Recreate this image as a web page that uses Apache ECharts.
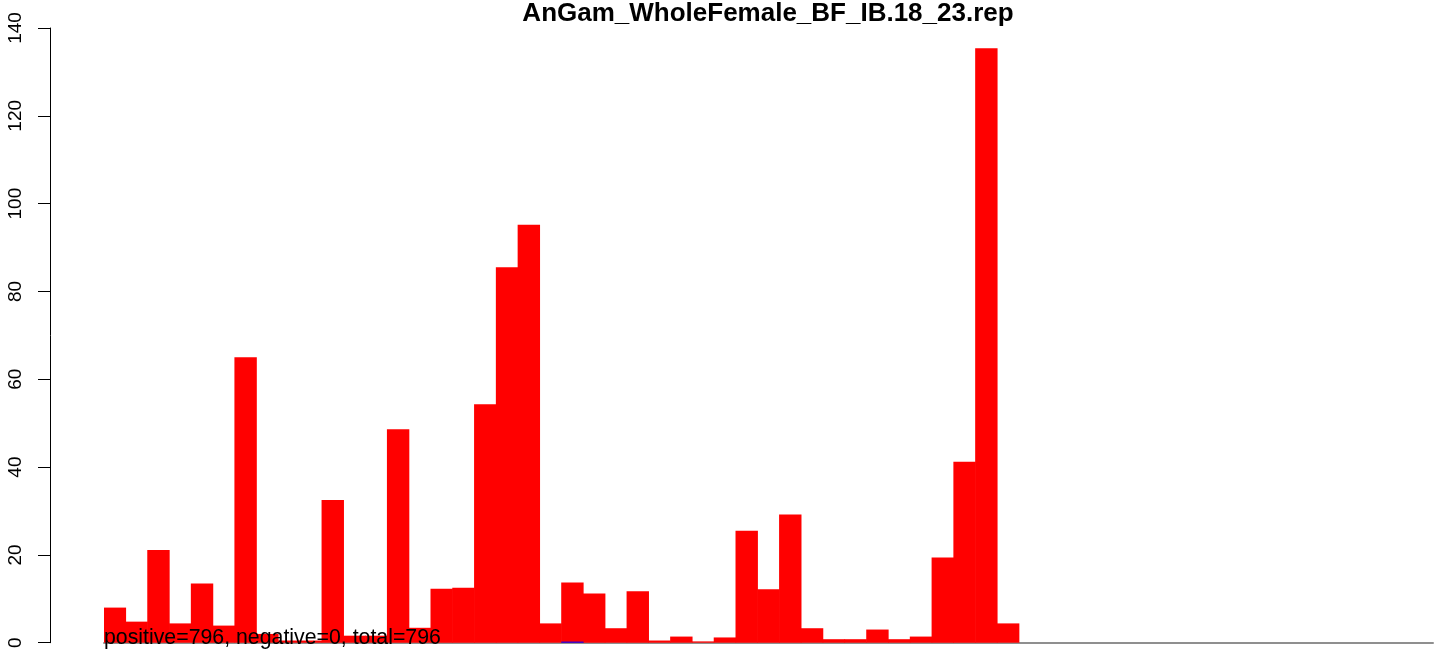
<!DOCTYPE html>
<html>
<head>
<meta charset="utf-8">
<script src="https://cdn.jsdelivr.net/npm/echarts@6/dist/echarts.min.js"></script>
<style>
html,body{margin:0;padding:0;background:#fff;}
#chart{width:1444px;height:651px;}
</style>
</head>
<body>
<div id="chart"></div>
<script>
const chartTitle = 'AnGam_WholeFemale_BF_IB.18_23.rep';
const noteText = 'positive=796, negative=0, total=796';
const slotCount = 61;
const categories = Array.from({length: slotCount}, (_, i) => String(i + 1));
const positiveValues = [
  8.0, 4.8, 21.1, 4.4, 13.5, 3.9, 65.0, 2.0, 0.5, 0.5,
  32.5, 1.6, 1.6, 48.6, 3.4, 12.3, 12.5, 54.3, 85.5, 95.2,
  4.4, 13.7, 11.2, 3.3, 11.7, 0.5, 1.4, 0.3, 1.2, 25.5,
  12.2, 29.2, 3.3, 0.8, 0.8, 3.0, 0.8, 1.4, 19.4, 41.2,
  135.4, 4.4
];
const negativeIndex = [21];
const negativeValues = [0.25];
const yTicks = [0, 20, 40, 60, 80, 100, 120, 140];

const posData = categories.map((c, i) => i < positiveValues.length ? positiveValues[i] : '-');
const negData = categories.map((c, i) => {
  const k = negativeIndex.indexOf(i);
  return k >= 0 ? negativeValues[k] : '-';
});

const chart = echarts.init(document.getElementById('chart'), null, {renderer: 'canvas'});
chart.setOption({
  animation: false,
  backgroundColor: '#ffffff',
  textStyle: {fontFamily: 'Liberation Sans, Arial, sans-serif'},
  title: [
    {
      text: chartTitle,
      left: 768,
      top: 1,
      textAlign: 'center',
      padding: 0,
      textStyle: {fontSize: 26, fontWeight: 'bold', color: '#000', fontFamily: 'Liberation Sans, Arial, sans-serif'}
    },
    {
      text: noteText,
      left: 104,
      top: 628,
      padding: 0,
      textStyle: {fontSize: 21.3, fontWeight: 'normal', color: '#000', fontFamily: 'Liberation Sans, Arial, sans-serif'},
      z: 10
    }
  ],
  grid: {left: 104, right: 11, top: 28, bottom: 7, containLabel: false},
  xAxis: {
    type: 'category',
    data: categories,
    axisLine: {show: true, lineStyle: {color: '#8f8f8f', width: 2}},
    axisTick: {show: false},
    axisLabel: {show: false},
    splitLine: {show: false}
  },
  yAxis: {
    type: 'value',
    min: yTicks[0],
    max: yTicks[yTicks.length - 1],
    interval: 20,
    offset: 54,
    axisLine: {show: true, lineStyle: {color: '#000', width: 1}},
    axisTick: {show: true, length: 12, lineStyle: {color: '#000', width: 1}},
    axisLabel: {
      show: true,
      rotate: 90,
      margin: 25,
      fontSize: 19,
      color: '#000',
      fontFamily: 'Liberation Sans, Arial, sans-serif'
    },
    splitLine: {show: false}
  },
  series: [
    {
      type: 'bar',
      data: posData,
      barWidth: 22.4,
      barGap: '-100%',
      itemStyle: {color: '#ff0000'},
      z: 2
    },
    {
      type: 'bar',
      data: negData,
      barWidth: 22.4,
      barGap: '-100%',
      itemStyle: {color: '#0000ff'},
      z: 3
    }
  ]
});
</script>
</body>
</html>
